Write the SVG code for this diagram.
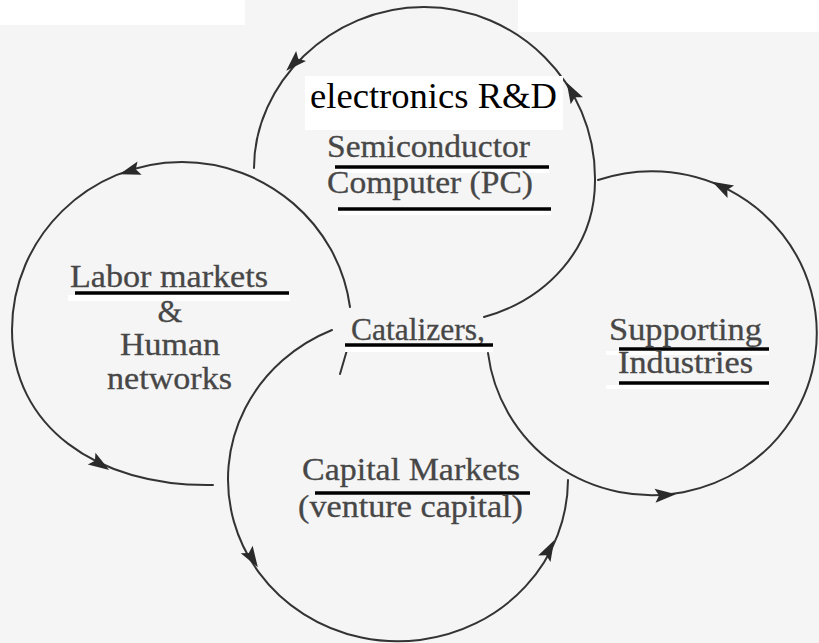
<svg xmlns="http://www.w3.org/2000/svg" xmlns:xlink="http://www.w3.org/1999/xlink" width="819" height="643" viewBox="0 0 819 643">
<style>
.arc{fill:none;stroke:#333;stroke-width:2;stroke-linecap:round}
.ah{fill:#2a2a2a}
.lbl{font-family:"Liberation Serif","DejaVu Serif","Noto Serif",serif;font-size:32px;fill:#474747;stroke:#474747;stroke-width:0.3}
.rd{font-family:"Liberation Serif","DejaVu Serif","Noto Serif",serif;font-size:36px;fill:#000}
.ul{stroke:#000;stroke-width:3.5}
.wb{fill:#fff}
</style>
<defs>
<path id="ah" d="M11,0 L-10,-7 L-6,0 L-10,7 Z"/>
</defs>
<rect x="0" y="0" width="819" height="643" fill="#f5f5f5"/>
<rect x="0" y="0" width="245" height="25" fill="#fff"/>
<rect x="518" y="0" width="301" height="32" fill="#fff"/>

<g id="connectors">
<path class="arc" d="M484 317 C545 300 596 250 595 178 C595 84 518 7 424 7 C330 7 254 84 254 168"/>
<path class="arc" d="M350 307 C338.8 224 265.8 162 182 162 C89 162 12 237 12 330 C12 425 95 487 213 485"/>
<path class="arc" d="M347 350 L340 374"/>
<path class="arc" d="M332 330 A170 162 0 1 0 568 480"/>
<path class="arc" d="M488 353 A165 162 0 1 0 598 180"/>
<use xlink:href="#ah" class="ah" transform="translate(294 63) rotate(135)"/>
<use xlink:href="#ah" class="ah" transform="translate(572 92) rotate(-119)"/>
<use xlink:href="#ah" class="ah" transform="translate(130 171) rotate(163)"/>
<use xlink:href="#ah" class="ah" transform="translate(100 464) rotate(33)"/>
<use xlink:href="#ah" class="ah" transform="translate(252 558) rotate(58)"/>
<use xlink:href="#ah" class="ah" transform="translate(549 550) rotate(-62)"/>
<use xlink:href="#ah" class="ah" transform="translate(722 187) rotate(-152)"/>
<use xlink:href="#ah" class="ah" transform="translate(665 495) rotate(-4)"/>
</g>

<g id="node-rd">
<rect x="305" y="76" width="258" height="54" fill="#fff"/>
<text class="rd" x="310" y="108" textLength="247" lengthAdjust="spacingAndGlyphs">electronics R&amp;D</text>
</g>

<g id="node-semiconductor">
<text class="lbl" x="327" y="157" textLength="203" lengthAdjust="spacingAndGlyphs">Semiconductor</text>
<rect class="wb" x="335" y="169" width="214" height="4"/>
<line class="ul" x1="335" y1="167" x2="549" y2="167"/>
<text class="lbl" x="327" y="193" textLength="206" lengthAdjust="spacingAndGlyphs">Computer (PC)</text>
<rect class="wb" x="338" y="211" width="213" height="4"/>
<line class="ul" x1="338" y1="209" x2="551" y2="209"/>
</g>

<g id="node-labor">
<text class="lbl" x="70" y="287" textLength="198" lengthAdjust="spacingAndGlyphs">Labor markets</text>
<rect class="wb" x="68" y="295" width="222" height="6"/>
<line class="ul" x1="75" y1="293" x2="289" y2="293"/>
<text class="lbl" x="170" y="322" text-anchor="middle">&amp;</text>
<text class="lbl" x="120" y="355" textLength="100" lengthAdjust="spacingAndGlyphs">Human</text>
<text class="lbl" x="107" y="389" textLength="125" lengthAdjust="spacingAndGlyphs">networks</text>
</g>

<g id="node-catalizers">
<text class="lbl" x="351" y="340" textLength="134" lengthAdjust="spacingAndGlyphs">Catalizers,</text>
<rect class="wb" x="345" y="347" width="148" height="5"/>
<line class="ul" x1="345" y1="345" x2="493" y2="345"/>
</g>

<g id="node-supporting">
<text class="lbl" x="609" y="340" textLength="153" lengthAdjust="spacingAndGlyphs">Supporting</text>
<rect class="wb" x="606" y="351" width="163" height="4"/>
<line class="ul" x1="619" y1="349" x2="769" y2="349"/>
<text class="lbl" x="618" y="373" textLength="135" lengthAdjust="spacingAndGlyphs">Industries</text>
<rect class="wb" x="606" y="385" width="163" height="4"/>
<line class="ul" x1="619" y1="383" x2="769" y2="383"/>
</g>

<g id="node-capital">
<text class="lbl" x="302" y="480" textLength="218" lengthAdjust="spacingAndGlyphs">Capital Markets</text>
<line class="ul" x1="315" y1="493" x2="530" y2="493"/>
<text class="lbl" x="298" y="517" textLength="225" lengthAdjust="spacingAndGlyphs">(venture capital)</text>
</g>
</svg>
